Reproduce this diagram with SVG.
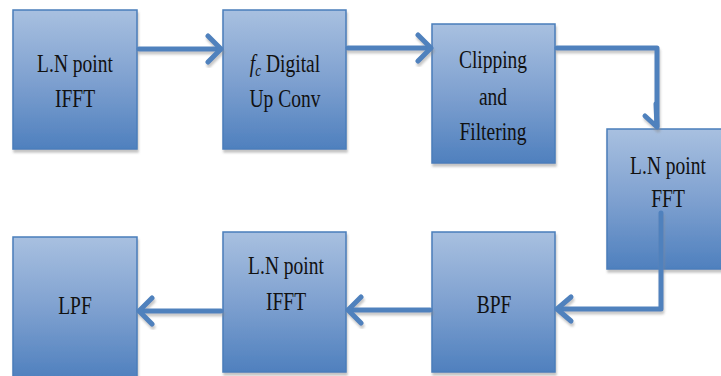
<svg xmlns="http://www.w3.org/2000/svg" width="721" height="376" viewBox="0 0 721 376">
<style>
.box{fill:url(#g);stroke:#4A7EBB;stroke-width:1.5;filter:url(#sh)}
.t{font-family:"Liberation Serif","Times New Roman",serif;font-size:25px;fill:#111;text-anchor:middle}
.c{fill:none;stroke:#4F81BD;stroke-width:5;stroke-linejoin:round;stroke-linecap:round;filter:url(#sh2)}
.a{fill:none;stroke:#4F81BD;stroke-width:5;stroke-linejoin:round;stroke-linecap:round}
</style>
<defs>
<linearGradient id="g" x1="0" y1="0" x2="0" y2="1">
<stop offset="0" stop-color="#A8C0E0"/>
<stop offset="0.5" stop-color="#7FA1D0"/>
<stop offset="1" stop-color="#4F80BE"/>
</linearGradient>
<filter id="sh" x="-10%" y="-10%" width="130%" height="130%">
<feDropShadow dx="1" dy="3" stdDeviation="1" flood-color="#888" flood-opacity="0.5"/>
</filter>
<filter id="sh2" x="-20%" y="-20%" width="140%" height="140%">
<feDropShadow dx="1" dy="3" stdDeviation="1" flood-color="#888" flood-opacity="0.45"/>
</filter>
</defs>
<rect width="721" height="376" fill="#fff"/>
<g id="n1"><rect class="box" x="13" y="10" width="124" height="139"/>
<text class="t" transform="translate(75,72) scale(0.78,1)">L.N point</text>
<text class="t" transform="translate(75,107) scale(0.78,1)">IFFT</text></g>
<g id="n2"><rect class="box" x="223" y="10" width="123" height="139"/>
<text class="t" transform="translate(285,72) scale(0.78,1)"><tspan font-style="italic">f</tspan><tspan font-style="italic" font-size="17" dy="4">c</tspan><tspan dy="-4"> Digital</tspan></text>
<text class="t" transform="translate(285,107) scale(0.78,1)">Up Conv</text></g>
<g id="n3"><rect class="box" x="432" y="24" width="123" height="139"/>
<text class="t" transform="translate(493,68) scale(0.78,1)">Clipping</text>
<text class="t" transform="translate(493,105) scale(0.78,1)">and</text>
<text class="t" transform="translate(493,140) scale(0.78,1)">Filtering</text></g>
<g id="n4"><rect class="box" x="607" y="129" width="118" height="140"/>
<text class="t" transform="translate(668,174) scale(0.78,1)">L.N point</text>
<text class="t" transform="translate(668,207) scale(0.78,1)">FFT</text></g>
<g id="n5"><rect class="box" x="432" y="232" width="123" height="140"/>
<text class="t" transform="translate(494,313) scale(0.78,1)">BPF</text></g>
<g id="n6"><rect class="box" x="223" y="232" width="123" height="140"/>
<text class="t" transform="translate(286,274) scale(0.78,1)">L.N point</text>
<text class="t" transform="translate(286,310) scale(0.78,1)">IFFT</text></g>
<g id="n7"><rect class="box" x="13" y="237" width="124" height="142"/>
<text class="t" transform="translate(75,314) scale(0.78,1)">LPF</text></g>
<g id="connectors">
<g class="c"><path d="M139,49 H220"/><path class="a" d="M208,36 L221,49 L208,62"/></g>
<g class="c"><path d="M348,48 H430"/><path class="a" d="M418,35 L431,48 L418,61"/></g>
<g class="c"><path d="M557,48 H657 V126"/><path class="a" d="M645,116 L657,127 L656,104"/></g>
<g class="c"><path d="M661,213 V309 H558"/><path class="a" d="M571,297 L557,309 L571,321"/></g>
<g class="c"><path d="M430,310 H349"/><path class="a" d="M361,297 L348,310 L361,323"/></g>
<g class="c"><path d="M221,311 H140"/><path class="a" d="M152,298 L139,311 L152,324"/></g>
</g>
</svg>
